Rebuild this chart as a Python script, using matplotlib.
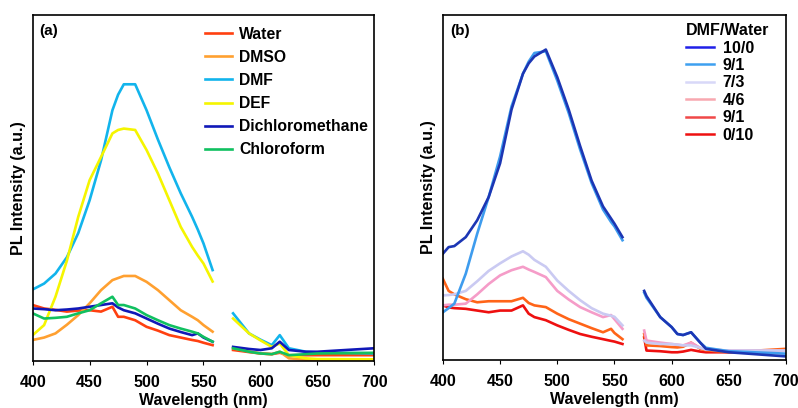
import matplotlib.pyplot as plt

plt.rcParams['font.family'] = ['Liberation Sans', 'DejaVu Sans']
plt.rcParams['font.weight'] = 'bold'

# (a) emission in different solvents, sampled (wavelength nm, relative intensity)
wl_a1 = [400, 410, 420, 430, 440, 450, 460, 470, 475, 480, 490, 500, 510, 520, 530, 540, 545, 550, 558]
wl_a2 = [576, 590, 600, 610, 617, 625, 640, 650, 700]

water_1 = [0.162, 0.152, 0.148, 0.143, 0.146, 0.147, 0.143, 0.157, 0.128, 0.128, 0.118, 0.099, 0.088, 0.075, 0.068, 0.061, 0.058, 0.053, 0.046]
water_2 = [0.032, 0.026, 0.022, 0.020, 0.024, 0.017, 0.017, 0.017, 0.017]
dmso_1 = [0.061, 0.068, 0.080, 0.105, 0.133, 0.167, 0.205, 0.234, 0.240, 0.246, 0.246, 0.229, 0.205, 0.176, 0.147, 0.128, 0.118, 0.104, 0.085]
dmso_2 = [0.037, 0.028, 0.022, 0.020, 0.027, 0.008, 0.004, 0.003, 0.003]
dmf_1 = [0.207, 0.224, 0.253, 0.300, 0.370, 0.465, 0.580, 0.725, 0.770, 0.800, 0.800, 0.725, 0.640, 0.560, 0.485, 0.417, 0.380, 0.340, 0.263]
dmf_2 = [0.138, 0.080, 0.062, 0.046, 0.075, 0.037, 0.027, 0.025, 0.022]
def_1 = [0.075, 0.104, 0.186, 0.290, 0.417, 0.523, 0.590, 0.658, 0.668, 0.672, 0.668, 0.610, 0.542, 0.465, 0.388, 0.330, 0.305, 0.282, 0.230]
def_2 = [0.123, 0.080, 0.060, 0.041, 0.051, 0.017, 0.008, 0.006, 0.005]
dcm_1 = [0.152, 0.150, 0.147, 0.149, 0.152, 0.157, 0.162, 0.167, 0.155, 0.147, 0.138, 0.123, 0.108, 0.094, 0.084, 0.075, 0.080, 0.068, 0.056]
dcm_2 = [0.041, 0.035, 0.032, 0.037, 0.056, 0.032, 0.027, 0.027, 0.037]
chl_1 = [0.138, 0.123, 0.125, 0.128, 0.138, 0.147, 0.167, 0.186, 0.162, 0.162, 0.152, 0.133, 0.118, 0.104, 0.094, 0.085, 0.080, 0.070, 0.056]
chl_2 = [0.037, 0.027, 0.022, 0.020, 0.027, 0.017, 0.020, 0.022, 0.024]

solvents = ['Water', 'DMSO', 'DMF', 'DEF', 'Dichloromethane', 'Chloroform']
colors_a = ['#FF4010', '#FFA030', '#12B4EC', '#F5F500', '#1018B8', '#10C060']
series_a = [(water_1, water_2), (dmso_1, dmso_2), (dmf_1, dmf_2),
            (def_1, def_2), (dcm_1, dcm_2), (chl_1, chl_2)]

# (b) emission in DMF/water mixtures
wl_b1 = [400, 405, 410, 420, 430, 440, 450, 460, 470, 475, 480, 490, 500, 510, 520, 530, 540, 547, 550, 557]
wl_b2 = [576, 578, 590, 600, 605, 610, 617, 625, 630, 650, 700]

r10_0_1 = [0.308, 0.327, 0.330, 0.356, 0.405, 0.472, 0.570, 0.726, 0.830, 0.860, 0.880, 0.900, 0.820, 0.726, 0.620, 0.520, 0.445, 0.410, 0.395, 0.356]
r10_0_2 = [0.200, 0.185, 0.124, 0.095, 0.075, 0.072, 0.080, 0.050, 0.032, 0.022, 0.010]
r9_1_1 = [0.138, 0.150, 0.163, 0.250, 0.366, 0.472, 0.590, 0.735, 0.830, 0.865, 0.890, 0.895, 0.810, 0.716, 0.610, 0.513, 0.436, 0.400, 0.387, 0.347]
r9_1_2 = [0.195, 0.180, 0.124, 0.095, 0.075, 0.072, 0.080, 0.050, 0.035, 0.025, 0.018]
r7_3_1 = [0.187, 0.188, 0.190, 0.200, 0.228, 0.258, 0.280, 0.300, 0.315, 0.305, 0.290, 0.270, 0.230, 0.200, 0.173, 0.150, 0.134, 0.128, 0.125, 0.100]
r7_3_2 = [0.056, 0.050, 0.046, 0.046, 0.044, 0.042, 0.042, 0.035, 0.030, 0.027, 0.027]
r4_6_1 = [0.158, 0.160, 0.160, 0.163, 0.190, 0.220, 0.245, 0.260, 0.270, 0.262, 0.255, 0.240, 0.200, 0.175, 0.153, 0.138, 0.124, 0.130, 0.118, 0.090]
r4_6_2 = [0.085, 0.056, 0.050, 0.046, 0.044, 0.042, 0.050, 0.035, 0.030, 0.027, 0.027]
r9_1b_1 = [0.235, 0.200, 0.190, 0.176, 0.167, 0.170, 0.170, 0.170, 0.180, 0.165, 0.158, 0.153, 0.134, 0.118, 0.105, 0.092, 0.080, 0.090, 0.078, 0.060]
r9_1b_2 = [0.075, 0.042, 0.040, 0.037, 0.036, 0.038, 0.050, 0.032, 0.028, 0.022, 0.032]
r0_10_1 = [0.158, 0.152, 0.150, 0.148, 0.143, 0.138, 0.143, 0.143, 0.158, 0.134, 0.124, 0.115, 0.100, 0.087, 0.075, 0.067, 0.060, 0.055, 0.053, 0.046]
r0_10_2 = [0.065, 0.027, 0.025, 0.022, 0.022, 0.024, 0.029, 0.024, 0.022, 0.022, 0.027]

ratios = ['10/0', '9/1', '7/3', '4/6', '9/1', '0/10']
colors_b = ['#1C36B4', '#3E9CEE', '#CACAF2', '#F59CC8', '#FF6418', '#EE1010']
legend_colors_b = ['#2020E8', '#3EA0F0', '#D8D8F8', '#F8A8B0', '#F04848', '#EE1010']
series_b = [(r10_0_1, r10_0_2), (r9_1_1, r9_1_2), (r7_3_1, r7_3_2),
            (r4_6_1, r4_6_2), (r9_1b_1, r9_1b_2), (r0_10_1, r0_10_2)]

fig = plt.figure(figsize=(7.98, 4.08), dpi=100)
ax_a = fig.add_axes([0.041, 0.115, 0.428, 0.848])
ax_b = fig.add_axes([0.555, 0.118, 0.430, 0.845])

for ax in (ax_a, ax_b):
    ax.set_xlim(400, 700)
    ax.set_ylim(0, 1)
    ax.set_xticks([400, 450, 500, 550, 600, 650, 700])
    ax.set_yticks([])
    ax.tick_params(axis='x', labelsize=11.5, length=3, pad=7)
    for lab in ax.get_xticklabels():
        lab.set_fontweight('bold')
    for sp in ax.spines.values():
        sp.set_linewidth(1.2)
    ax.set_xlabel('Wavelength (nm)', fontsize=11.5, fontweight='bold', labelpad=2)
    ax.set_ylabel('PL Intensity (a.u.)', fontsize=11.5, fontweight='bold', labelpad=5)

handles = []
for name, col, (s1, s2) in zip(solvents, colors_a, series_a):
    h, = ax_a.plot(wl_a1, s1, color=col, lw=1.9, label=name)
    ax_a.plot(wl_a2, s2, color=col, lw=1.9)
    handles.append(h)
ax_a.legend(handles=handles, loc='upper left', bbox_to_anchor=(0.485, 0.985),
            frameon=False, fontsize=11.3, handlelength=1.75, handletextpad=0.45,
            labelspacing=0.52, borderaxespad=0)
ax_a.text(0.02, 0.975, '(a)', transform=ax_a.transAxes, fontsize=11,
          fontweight='bold', va='top')

# draw from the bottom of the legend upwards so blues sit on top
for name, col, (s1, s2) in reversed(list(zip(ratios, colors_b, series_b))):
    ax_b.plot(wl_b1, s1, color=col, lw=1.9)
    ax_b.plot(wl_b2, s2, color=col, lw=1.9)
proxies = [plt.Line2D([], [], color=c, lw=1.8) for c in legend_colors_b]
leg = ax_b.legend(proxies, ratios, title='DMF/Water', loc='upper left',
                  bbox_to_anchor=(0.69, 0.995), frameon=False, fontsize=11.5,
                  title_fontproperties={'weight': 'bold', 'size': 11.5},
                  handlelength=1.75, handletextpad=0.55, labelspacing=0.15,
                  borderaxespad=0)
leg._legend_box.align = 'left'
ax_b.text(0.02, 0.975, '(b)', transform=ax_b.transAxes, fontsize=11,
          fontweight='bold', va='top')

fig.savefig('out.png', dpi=100)
